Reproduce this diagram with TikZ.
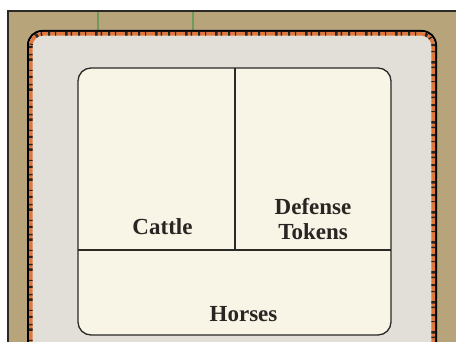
\documentclass[tikz,border=0pt]{standalone}
\usepackage{fontspec}
\setmainfont{Liberation Serif}
\usetikzlibrary{positioning}
\definecolor{boardtan}{HTML}{B8A47A}
\definecolor{framegrey}{HTML}{2B2926}
\definecolor{mattgrey}{HTML}{E2DED8}
\definecolor{panelcream}{HTML}{F8F4E6}
\definecolor{trimorange}{HTML}{E0783E}
\definecolor{trackgreen}{HTML}{6E9A5A}
\definecolor{labelink}{HTML}{2A2522}

\begin{document}
\begin{tikzpicture}[x=1pt, y=-1pt,
		boxlabel/.style={font=\fontsize{23}{25}\selectfont\bfseries, text=labelink, anchor=base, inner sep=0pt, align=center},
		divider/.style={line width=1.3pt, framegrey}]
		% Page size, in pixels of the reference
		\useasboundingbox (0,0) rectangle (456,342);
		\fill[white] (0,0) rectangle (456,342);
		
		% 1. Board background and frame
		\fill[boardtan] (8,11) rectangle (456,342);
		\draw[line width=1.8pt, framegrey] (8,342) -- (8,11) -- (456,11);
		\draw[line width=2.2pt, trackgreen] (98,12) -- (98,30);
		\draw[line width=2.2pt, trackgreen] (193,12) -- (193,30);
		
		% 2. Trimmed matt with orange edge
		\coordinate (M1) at (28,31);
		\coordinate (M2) at (436,360);
		\coordinate (T1) at (30.8,33.8);
		\coordinate (T2) at (433.2,360);
		\fill[mattgrey, rounded corners=14pt] (M1) rectangle (M2);
		\draw[line width=2pt, black, rounded corners=14pt] (M1) rectangle (M2);
		\draw[line width=3.6pt, trimorange, rounded corners=12pt] (T1) rectangle (T2);
		\draw[line width=3.6pt, black!85, dash pattern=on 2pt off 6pt on 1.5pt off 3pt on 2.5pt off 9pt on 1pt off 5pt, rounded corners=12pt] (T1) rectangle (T2);
		
		% 3. Cream panel and its dividers
		\coordinate (P1) at (78,68);
		\coordinate (P2) at (391,335);
		\coordinate (V1) at (235,68);
		\coordinate (V2) at (235,250);
		\coordinate (H1) at (78,250);
		\coordinate (H2) at (391,250);
		\filldraw[fill=panelcream, draw=framegrey, line width=1.3pt, rounded corners=13pt] (P1) rectangle (P2);
		\draw[divider] (V1) -- (V2);
		\draw[divider] (H1) -- (H2);
		
		% 4. Labels
		\node[boxlabel] (cattle) at (162.5,235) {Cattle};
		\node[boxlabel] (defense) at (313,215) {Defense};
		\node[boxlabel] (tokens) at (313,240) {Tokens};
		\node[boxlabel] (horses) at (243.5,322) {Horses};
		
	\end{tikzpicture}
\end{document}
